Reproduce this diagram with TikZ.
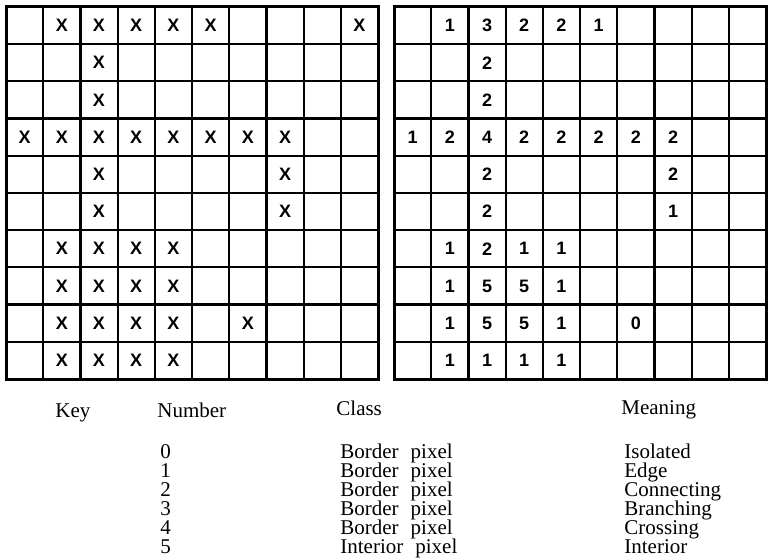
\documentclass[tikz,border=0pt]{standalone}
\usepackage{fontspec}
\setmainfont{Liberation Serif}
\newfontfamily\cellfont{Liberation Sans}
\usetikzlibrary{positioning}

\tikzset{
  gridline/.style={line width=1.1pt},
  gridframe/.style={line width=1.5pt},
  pixmark/.style={font=\cellfont\bfseries\fontsize{9}{9}\selectfont, inner sep=0pt},
  keyhead/.style={font=\fontsize{10.5}{11}\selectfont, inner sep=0pt, anchor=base west},
  keytext/.style={font=\fontsize{10.5}{11}\selectfont, inner sep=0pt, anchor=base west},
}

\begin{document}
\begin{tikzpicture}[x=0.5pt,y=-0.5pt]
\useasboundingbox (0,0) rectangle (769,560);

% left grid : the binary picture
\foreach \i in {1,...,9} {
  \draw[gridline] (6+37.2*\i,7) -- (6+37.2*\i,379);
  \draw[gridline] (6,7+37.2*\i) -- (378,7+37.2*\i);
}
\draw[gridframe] (6,7) rectangle (378,379);

\foreach \r/\c in {0/1,0/2,0/3,0/4,0/5,0/9,
                   1/2,2/2,
                   3/0,3/1,3/2,3/3,3/4,3/5,3/6,3/7,
                   4/2,4/7,5/2,5/7,
                   6/1,6/2,6/3,6/4,
                   7/1,7/2,7/3,7/4,
                   8/1,8/2,8/3,8/4,8/6,
                   9/1,9/2,9/3,9/4} {
  \node[pixmark] (L\r\c) at (24.6+37.2*\c,25.6+37.2*\r) {X};
}

% right grid : the pixel numbers
\foreach \i in {1,...,9} {
  \draw[gridline] (394+37.2*\i,7) -- (394+37.2*\i,379);
  \draw[gridline] (394,7+37.2*\i) -- (766,7+37.2*\i);
}
\draw[gridframe] (394,7) rectangle (766,379);

\foreach \r/\c/\v in {0/1/1,0/2/3,0/3/2,0/4/2,0/5/1,
                      1/2/2,2/2/2,
                      3/0/1,3/1/2,3/2/4,3/3/2,3/4/2,3/5/2,3/6/2,3/7/2,
                      4/2/2,4/7/2,5/2/2,5/7/1,
                      6/1/1,6/2/2,6/3/1,6/4/1,
                      7/1/1,7/2/5,7/3/5,7/4/1,
                      8/1/1,8/2/5,8/3/5,8/4/1,8/6/0,
                      9/1/1,9/2/1,9/3/1,9/4/1} {
  \node[pixmark] (R\r\c) at (412.6+37.2*\c,25.6+37.2*\r) {\v};
}

% key
\node[keyhead] (key) at (55,417) {Key};
\node[keyhead] (number) at (157,417) {Number};
\node[keyhead] (class) at (336,415) {Class};
\node[keyhead] (meaning) at (621,414) {Meaning};

\foreach \n/\cl/\m [count=\k from 0] in {0/Border/Isolated,1/Border/Edge,
    2/Border/Connecting,3/Border/Branching,4/Border/Crossing,5/Interior/Interior} {
  \node[keytext] (num\n) at (160,458+19*\k) {\n};
  \node[keytext] (cls\n) at (340,458+19*\k) {\cl\hskip 6pt pixel};
  \node[keytext] (mean\n) at (624,458+19*\k) {\m};
}
\end{tikzpicture}
\end{document}
